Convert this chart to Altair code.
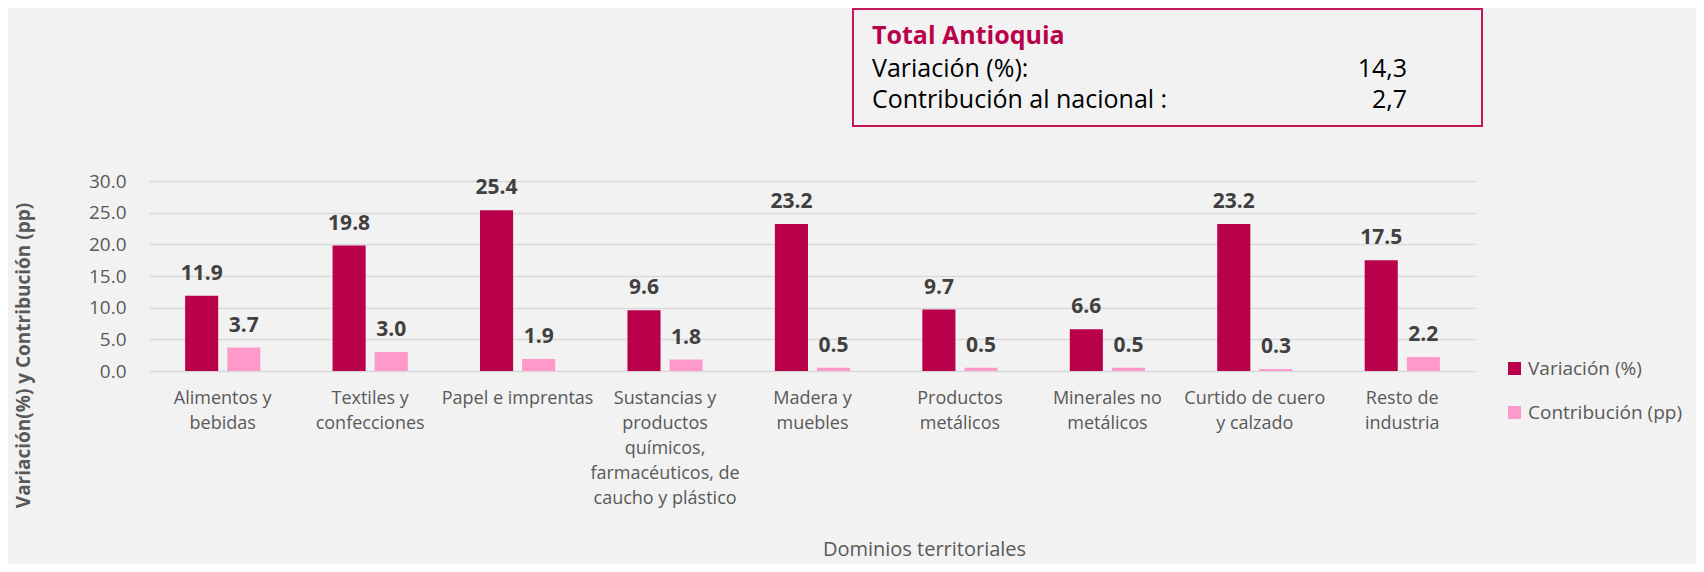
import altair as alt
import pandas as pd

# ---- data ----
categorias = [
    "Alimentos y\nbebidas",
    "Textiles y\nconfecciones",
    "Papel e imprentas",
    "Sustancias y\nproductos\nquímicos,\nfarmacéuticos, de\ncaucho y plástico",
    "Madera y\nmuebles",
    "Productos\nmetálicos",
    "Minerales no\nmetálicos",
    "Curtido de cuero\ny calzado",
    "Resto de\nindustria",
]
variacion = [11.9, 19.8, 25.4, 9.6, 23.2, 9.7, 6.6, 23.2, 17.5]
contribucion = [3.7, 3.0, 1.9, 1.8, 0.5, 0.5, 0.5, 0.3, 2.2]
series = ["Variación (%)", "Contribución (pp)"]
colores = ["#B8004B", "#FF99CC"]

caja_titulo = "Total Antioquia"
caja_etiquetas = ["Variación (%):", "Contribución al nacional :"]
caja_valores = ["14,3", "2,7"]

eje_y_titulo = "Variación(%) y Contribución (pp)"
eje_x_titulo = "Dominios territoriales"

rows = []
for c, v, p in zip(categorias, variacion, contribucion):
    rows.append({"categoria": c, "serie": series[0], "valor": v})
    rows.append({"categoria": c, "serie": series[1], "valor": p})
df = pd.DataFrame(rows)

FONT = "Open Sans"
GREY = "#595959"

x_enc = alt.X(
    "categoria:N",
    sort=categorias,
    scale=alt.Scale(paddingInner=0.49, paddingOuter=0.245),
    axis=alt.Axis(
        title=eje_x_titulo,
        labelAngle=0,
        labelExpr="split(datum.label, '\\n')",
        labelLineHeight=25,
        labelPadding=18,
        labelFontSize=18,
        labelColor=GREY,
        labelFont=FONT,
        labelBaseline="top",
        domain=False,
        ticks=False,
        tickSize=0,
        grid=False,
        titleX=775,
        titleY=178,
        titleAlign="center",
        titleBaseline="middle",
        titleFontSize=20,
        titleFontWeight="normal",
        titleColor=GREY,
        titleFont=FONT,
    ),
)
xoff = alt.XOffset("serie:N", sort=series, scale=alt.Scale(paddingInner=0.214, paddingOuter=0))
y_enc = alt.Y(
    "valor:Q",
    scale=alt.Scale(domain=[0, 30], nice=False),
    axis=alt.Axis(
        title=eje_y_titulo,
        values=[0, 5, 10, 15, 20, 25, 30],
        format=".1f",
        labelFontSize=19,
        labelColor=GREY,
        labelFont=FONT,
        labelPadding=23,
        domain=False,
        ticks=False,
        tickSize=0,
        grid=True,
        gridColor="#D9D9D9",
        gridWidth=1.5,
        titleX=-126,
        titleY=174,
        titleAlign="center",
        titleBaseline="middle",
        titleFontSize=19,
        titleFontWeight="bold",
        titleColor=GREY,
        titleFont=FONT,
    ),
)
color_enc = alt.Color(
    "serie:N",
    sort=series,
    scale=alt.Scale(domain=series, range=colores),
    legend=alt.Legend(
        title=None,
        orient="none",
        legendX=1356,
        legendY=178,
        symbolType="square",
        symbolSize=169,
        symbolStrokeWidth=0,
        labelFontSize=19,
        labelFont=FONT,
        labelColor=GREY,
        labelOffset=4,
        labelLimit=400,
        rowPadding=24,
        padding=0,
    ),
)

base = alt.Chart(df).encode(x=x_enc, xOffset=xoff, y=y_enc)
bars = base.mark_bar().encode(color=color_enc)
labels = base.mark_text(
    dy=-16, baseline="alphabetic", align="center", font=FONT, fontSize=21,
    fontWeight="bold", color="#404040"
).encode(text=alt.Text("valor:Q", format=".1f"))

box = alt.Chart(pd.DataFrame({"k": [0]})).mark_rect(
    fill="#F2F2F2", stroke="#C2185B", strokeWidth=2
).encode(x=alt.value(704), x2=alt.value(1333), y=alt.value(-172), y2=alt.value(-55))

t_title = alt.Chart(pd.DataFrame({"t": [caja_titulo]})).mark_text(
    align="left", baseline="alphabetic", font=FONT, fontSize=25, fontWeight="bold", color="#B8004B"
).encode(x=alt.value(723), y=alt.value(-137), text="t:N")

t_lab1 = alt.Chart(pd.DataFrame({"t": [caja_etiquetas[0]]})).mark_text(
    align="left", baseline="alphabetic", font=FONT, fontSize=25, color="#000000"
).encode(x=alt.value(723), y=alt.value(-104), text="t:N")
t_lab2 = alt.Chart(pd.DataFrame({"t": [caja_etiquetas[1]]})).mark_text(
    align="left", baseline="alphabetic", font=FONT, fontSize=25, color="#000000"
).encode(x=alt.value(723), y=alt.value(-73), text="t:N")
t_val1 = alt.Chart(pd.DataFrame({"t": [caja_valores[0]]})).mark_text(
    align="right", baseline="alphabetic", font=FONT, fontSize=25, color="#000000"
).encode(x=alt.value(1258), y=alt.value(-104), text="t:N")
t_val2 = alt.Chart(pd.DataFrame({"t": [caja_valores[1]]})).mark_text(
    align="right", baseline="alphabetic", font=FONT, fontSize=25, color="#000000"
).encode(x=alt.value(1258), y=alt.value(-73), text="t:N")

chart = alt.layer(
    bars, labels, box, t_title, t_lab1, t_lab2, t_val1, t_val2
).properties(
    width=1327,
    height=190,
    autosize=alt.AutoSizeParams(type="none"),
    padding={"left": 141, "top": 173, "right": 220, "bottom": 193},
).configure(
    background="#F2F2F2",
    font=FONT,
).configure_view(stroke=None)

chart.save("out.html", embed_options={"renderer": "svg", "actions": False})
